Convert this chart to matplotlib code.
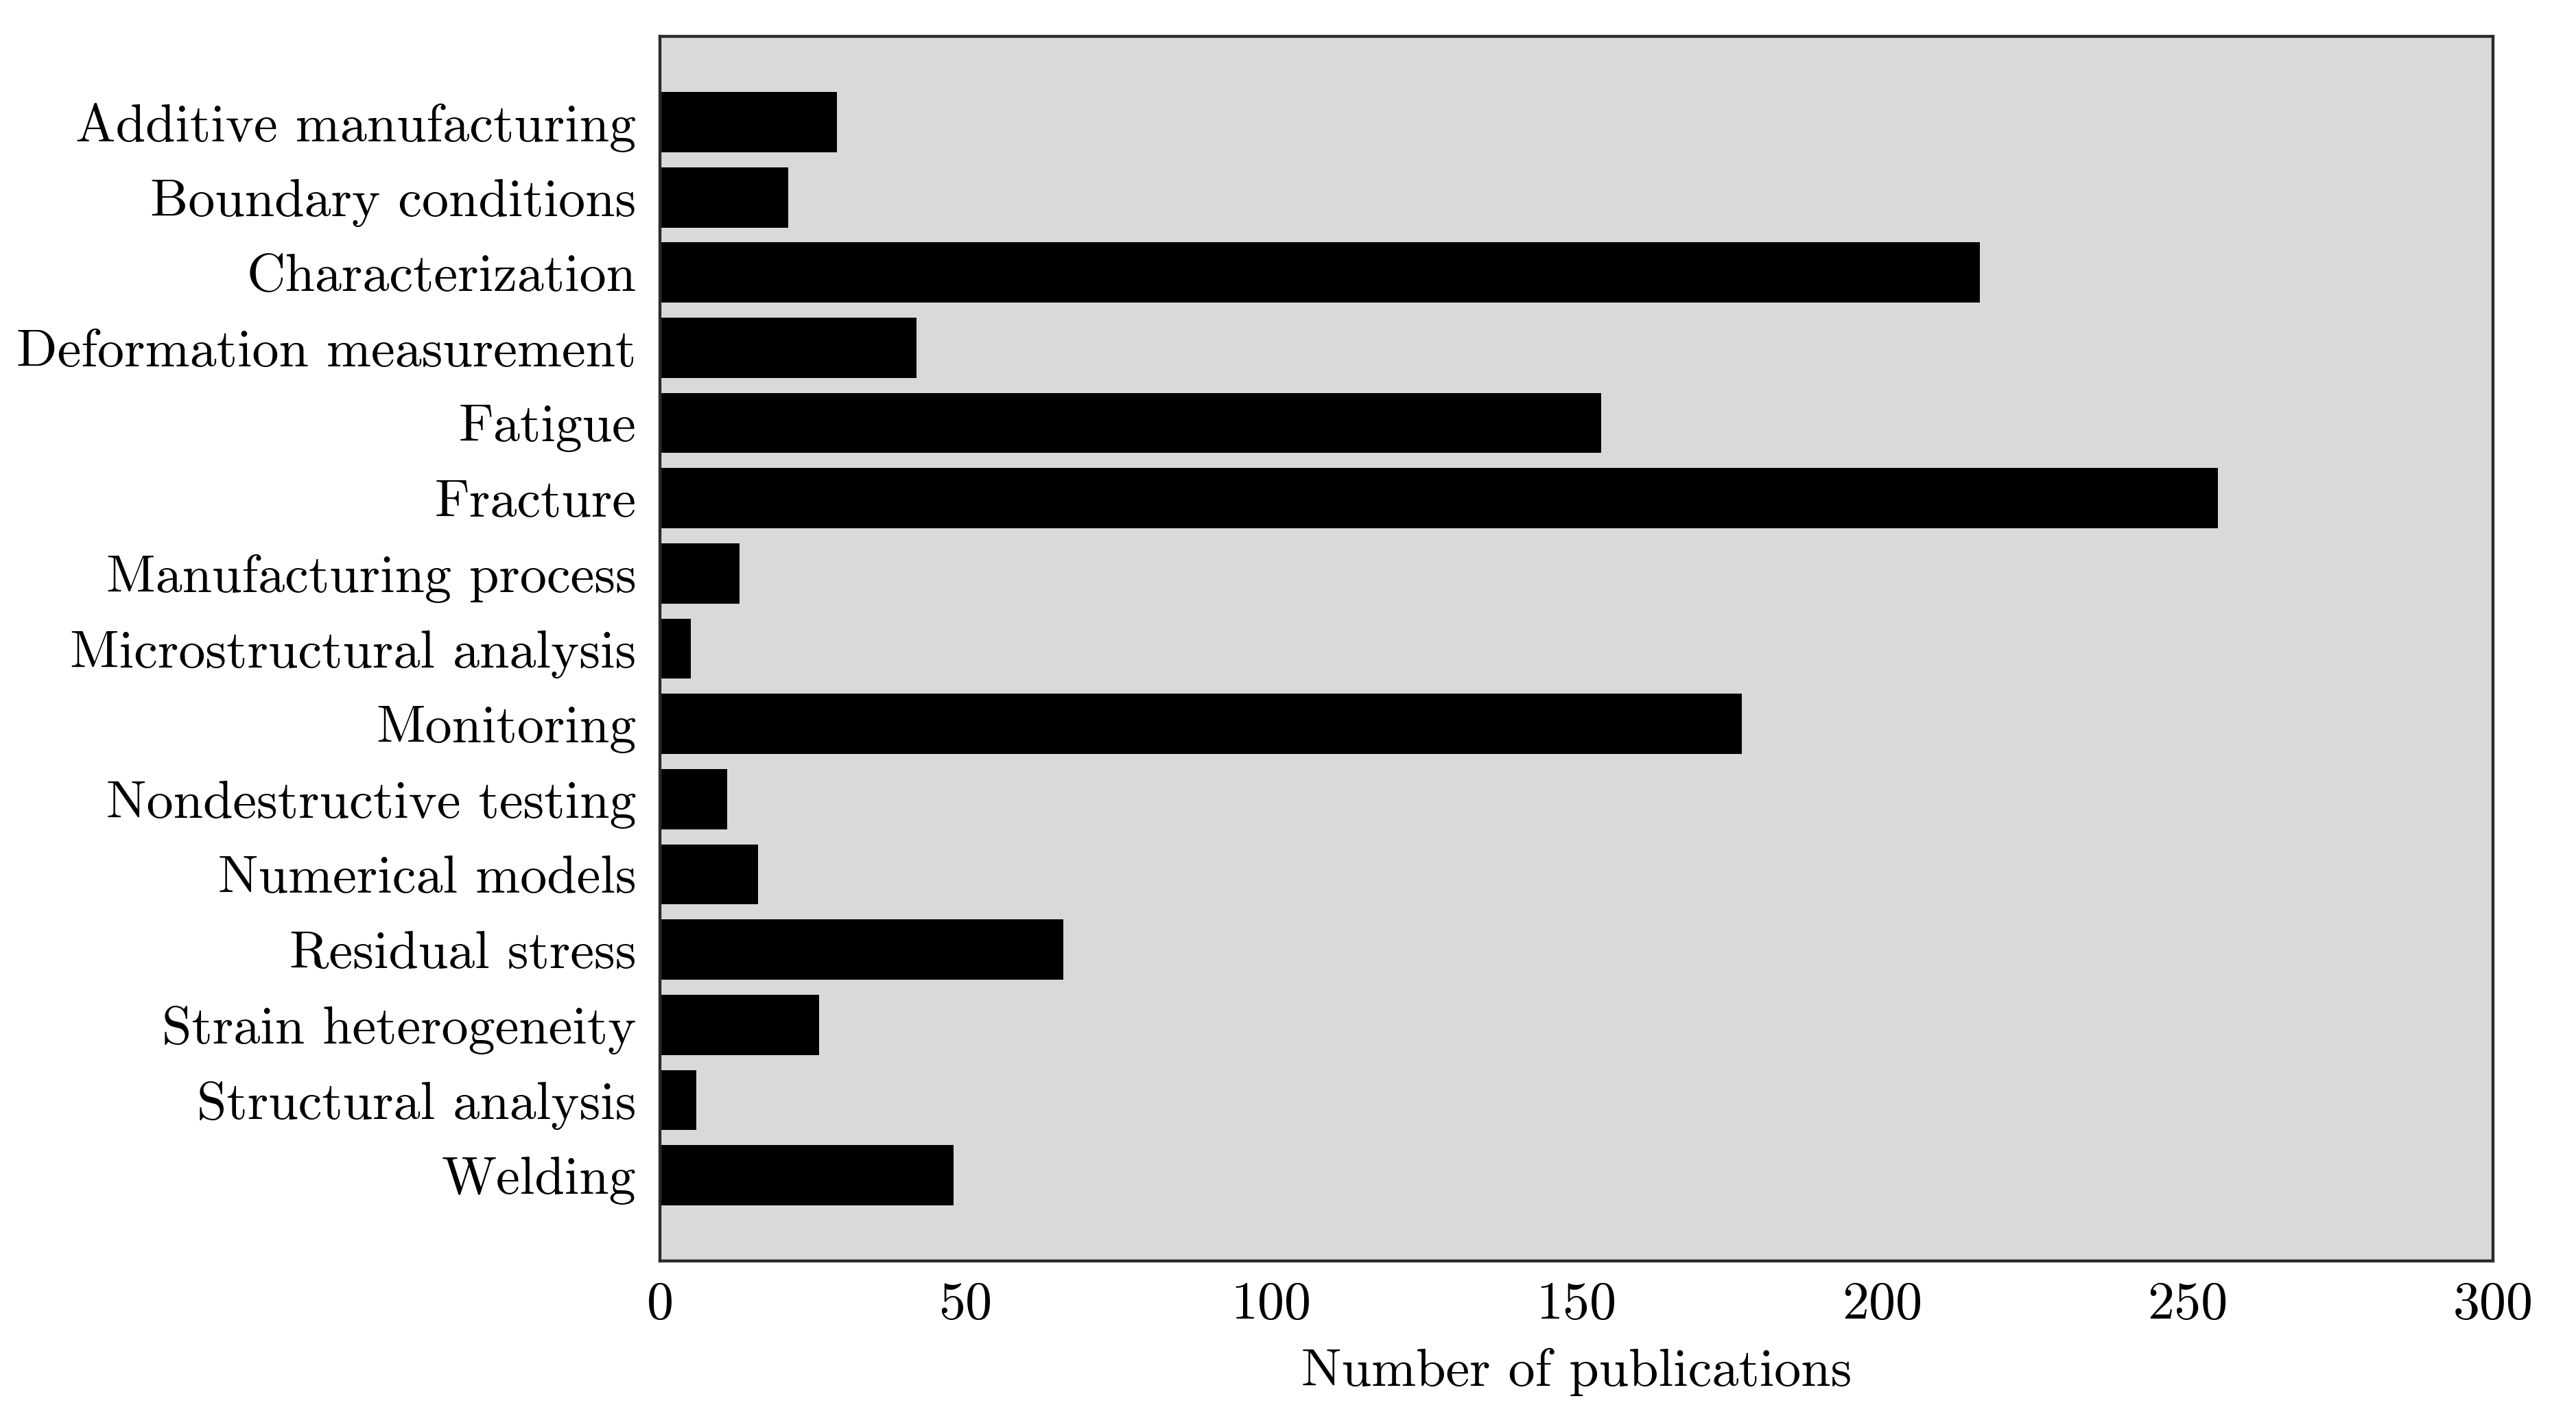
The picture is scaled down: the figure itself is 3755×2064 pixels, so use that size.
import matplotlib
matplotlib.use("Agg")
import matplotlib.pyplot as plt
import numpy as np

categories = [
    "Additive manufacturing",
    "Boundary conditions",
    "Characterization",
    "Deformation measurement",
    "Fatigue",
    "Fracture",
    "Manufacturing process",
    "Microstructural analysis",
    "Monitoring",
    "Nondestructive testing",
    "Numerical models",
    "Residual stress",
    "Strain heterogeneity",
    "Structural analysis",
    "Welding",
]
publications = [29, 21, 216, 42, 154, 255, 13, 5, 177, 11, 16, 66, 26, 6, 48]
xticks = [0, 50, 100, 150, 200, 250, 300]

plt.rcParams["font.family"] = "serif"
plt.rcParams["font.serif"] = ["cmr10"]
plt.rcParams["axes.formatter.use_mathtext"] = True
plt.rcParams["mathtext.fontset"] = "cm"

fig = plt.figure(figsize=(3755 / 250, 2064 / 250), dpi=250)
ax = fig.add_axes([0.2562, 0.1095, 0.9678 - 0.2562, 0.9743 - 0.1095])
ax.set_facecolor("#d9d9d9")

y = np.arange(len(categories))
ax.barh(y, publications, height=0.8, color="black")
ax.set_yticks(y)
ax.set_yticklabels(categories)
ax.invert_yaxis()
ax.set_xlim(0, 300)
ax.set_xticks(xticks)
ax.set_xticklabels([str(t) for t in xticks])
ax.tick_params(axis="both", length=0, labelsize=22.5)
ax.tick_params(axis="x", pad=8.5)
ax.tick_params(axis="y", pad=10)
ax.set_xlabel("Number of publications", fontsize=22.5, labelpad=8)
for s in ax.spines.values():
    s.set_color("#2b2b2b")
    s.set_linewidth(1.25)

fig.savefig("out.png", dpi=250)
